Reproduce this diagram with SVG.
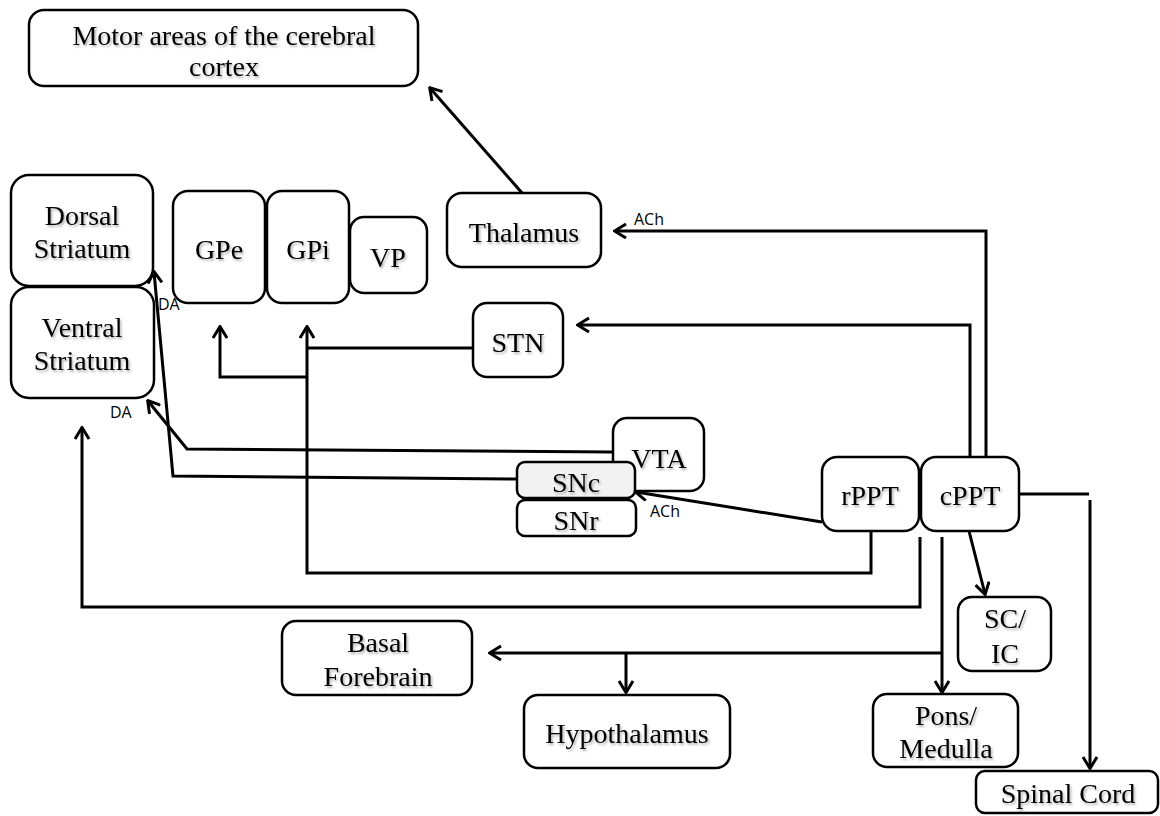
<svg xmlns="http://www.w3.org/2000/svg" width="1160" height="816" viewBox="0 0 1160 816">
<style>
.box{fill:#fff;stroke:#000;stroke-width:2.5}
.gray{fill:#f2f2f2}
.t{font-family:"Liberation Serif","Times New Roman",serif;font-size:28px;fill:#000;text-anchor:middle;filter:url(#ts)}
.s{font-family:"Open Sans","Liberation Sans",sans-serif;font-size:16px;fill:#000}
.c{fill:none;stroke:#000;stroke-width:3;stroke-linejoin:miter}
.a{marker-end:url(#arr)}
</style>
<defs>
<filter id="ts" x="-10%" y="-20%" width="130%" height="160%">
<feDropShadow dx="1.5" dy="2" stdDeviation="1.3" flood-color="#000" flood-opacity="0.3"/>
</filter>
<filter id="bs" x="-10%" y="-10%" width="130%" height="130%">
<feDropShadow dx="1" dy="1.5" stdDeviation="1" flood-color="#000" flood-opacity="0.25"/>
</filter>
<marker id="arr" markerUnits="userSpaceOnUse" viewBox="0 0 14 16" markerWidth="14" markerHeight="16" refX="12" refY="8" orient="auto">
<path d="M1,1 L12.5,8 L1,15" fill="none" stroke="#000" stroke-width="3"/>
</marker>
</defs>

<g id="connectors">
<polyline class="c a" points="523,194 430,88"/>
<polyline class="c a" points="986,457 986,231 615,231"/>
<polyline class="c a" points="970,457 970,325 578,325"/>
<polyline class="c" points="473,348 307,348"/>
<polyline class="c a" points="871,531 871,573 307,573 307,327"/>
<polyline class="c a" points="307,377 220,377 220,327"/>
<polyline class="c a" points="613,452 187,449 148,401"/>
<polyline class="c a" points="517,479 173,476 154,272"/>
<polyline class="c a" points="822,522 636,492"/>
<polyline class="c a" points="920,537 920,607 82,607 82,428"/>
<polyline class="c a" points="969,531 985,594"/>
<polyline class="c a" points="942,537 942,692"/>
<polyline class="c a" points="942,653 490,653"/>
<polyline class="c a" points="626,653 626,692"/>
<polyline class="c" points="1019,494 1089,494"/>
<polyline class="c a" points="1090,500 1090,768"/>
</g>

<g id="motor"><rect class="box" x="29" y="10" width="389" height="76" rx="15"/><text class="t" x="224" y="45">Motor areas of the cerebral</text><text class="t" x="224" y="76">cortex</text></g>
<g id="dorsal"><rect class="box" x="11" y="175" width="142" height="111" rx="18"/><text class="t" x="82" y="225">Dorsal</text><text class="t" x="82" y="258">Striatum</text></g>
<g id="ventral"><rect class="box" x="11" y="287" width="143" height="111" rx="18"/><text class="t" x="82" y="337">Ventral</text><text class="t" x="82" y="370">Striatum</text></g>
<g id="gpe"><rect class="box" x="173" y="191" width="92" height="112" rx="15"/><text class="t" x="219" y="259">GPe</text></g>
<g id="gpi"><rect class="box" x="267" y="191" width="82" height="112" rx="15"/><text class="t" x="308" y="259">GPi</text></g>
<g id="vp"><rect class="box" x="350" y="217" width="77" height="76" rx="14"/><text class="t" x="388" y="267">VP</text></g>
<g id="thalamus"><rect class="box" x="447" y="193" width="154" height="74" rx="15"/><text class="t" x="524" y="242">Thalamus</text></g>
<g id="stn"><rect class="box" x="473" y="303" width="90" height="74" rx="14"/><text class="t" x="518" y="352">STN</text></g>
<g id="vta"><rect class="box" x="613" y="418" width="91" height="73" rx="14"/><text class="t" x="659" y="468">VTA</text></g>
<g id="snc"><rect class="box gray" x="517" y="462" width="118" height="36" rx="8"/><text class="t" x="576" y="492">SNc</text></g>
<g id="snr"><rect class="box" x="517" y="500" width="119" height="36" rx="8"/><text class="t" x="576" y="530">SNr</text></g>
<g id="rppt"><rect class="box" x="822" y="457" width="97" height="74" rx="15"/><text class="t" x="870" y="505">rPPT</text></g>
<g id="cppt"><rect class="box" x="921" y="457" width="98" height="74" rx="15"/><text class="t" x="970" y="505">cPPT</text></g>
<g id="scic"><rect class="box" x="958" y="597" width="93" height="74" rx="14"/><text class="t" x="1005" y="628">SC/</text><text class="t" x="1005" y="663">IC</text></g>
<g id="basal"><rect class="box" x="282" y="621" width="190" height="74" rx="14"/><text class="t" x="378" y="652">Basal</text><text class="t" x="378" y="686">Forebrain</text></g>
<g id="hypothalamus"><rect class="box" x="524" y="695" width="206" height="73" rx="14"/><text class="t" x="627" y="743">Hypothalamus</text></g>
<g id="pons"><rect class="box" x="873" y="694" width="145" height="73" rx="14"/><text class="t" x="946" y="725">Pons/</text><text class="t" x="946" y="758">Medulla</text></g>
<g id="spinal"><rect class="box" x="976" y="771" width="182" height="42" rx="9"/><text class="t" x="1068" y="803">Spinal Cord</text></g>

<g id="labels">
<text class="s" x="634" y="225">ACh</text>
<text class="s" x="650" y="517">ACh</text>
<text class="s" x="158" y="310">DA</text>
<text class="s" x="110" y="418">DA</text>
</g>
</svg>
